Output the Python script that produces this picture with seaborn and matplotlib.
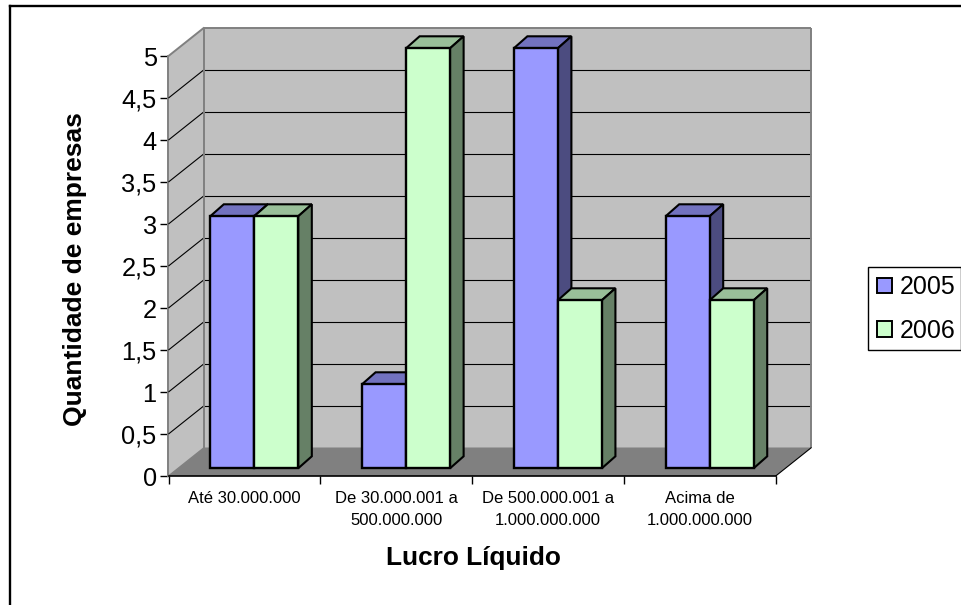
import matplotlib
matplotlib.use("Agg")
import matplotlib.pyplot as plt
import matplotlib.transforms as mtrans
from matplotlib.lines import Line2D
from matplotlib.patches import Polygon, Rectangle
import numpy as np
import pandas as pd
import seaborn as sns

categories = ["Até 30.000.000", "De 30.000.001 a\n500.000.000",
              "De 500.000.001 a\n1.000.000.000", "Acima de\n1.000.000.000"]
series_2005 = [3, 1, 5, 3]
series_2006 = [3, 5, 2, 2]
years = ["2005", "2006"]
y_ticks = [0, 0.5, 1, 1.5, 2, 2.5, 3, 3.5, 4, 4.5, 5]
y_tick_labels = ["0", "0,5", "1", "1,5", "2", "2,5", "3", "3,5", "4", "4,5", "5"]

front_colors = {"2005": "#9999FF", "2006": "#CCFFCC"}
top_colors = {"2005": "#7272BF", "2006": "#99BF99"}
side_colors = {"2005": "#4C4C80", "2006": "#668066"}

W, H = 962, 605
sns.set_theme(style="white")
plt.rcParams["font.family"] = ["Liberation Sans", "DejaVu Sans"]

fig = plt.figure(figsize=(W / 100, H / 100), dpi=100, facecolor="white")
# Axes rectangle is the front plane of the pseudo-3D box, given in pixels
left, right, top, bottom = 168.5, 775.7, 56.0, 476.0
ax = fig.add_axes([left / W, 1 - bottom / H, (right - left) / W, (bottom - top) / H])
ax.patch.set_alpha(0)

df = pd.DataFrame({
    "categoria": categories * 2,
    "ano": [years[0]] * 4 + [years[1]] * 4,
    "valor": series_2005 + series_2006,
})
sns.barplot(data=df, x="categoria", y="valor", hue="ano", hue_order=years,
            palette=front_colors, width=0.58, saturation=1, gap=0,
            edgecolor="black", linewidth=1.7, legend=False, ax=ax)
ax.set_xlim(-0.5, 3.5)
ax.set_ylim(0, 5)

BACK = np.array([35.8, 28.5])     # box depth, pixels right and up
BAR_FRONT = np.array([9.8, 7.7])  # bar front faces sit this far into the box
BAR_DEPTH = np.array([13.6, 12.0])


def px(x, y, depth=(0, 0)):
    """Data point to pixels, pushed into the box by a depth vector."""
    p = ax.transData.transform((x, y))
    return p + np.asarray(depth)


pix = mtrans.IdentityTransform()


def face(points, color, z, edge="none", lw=0):
    ax.add_patch(Polygon(np.array(points), closed=True, facecolor=color, edgecolor=edge,
                         linewidth=lw, transform=pix, clip_on=False, zorder=z,
                         joinstyle="miter"))


def seg(a, b, color="black", lw=1.0, z=1.0):
    ax.plot([a[0], b[0]], [a[1], b[1]], color=color, lw=lw, transform=pix,
            clip_on=False, zorder=z, solid_capstyle="butt")


x0, x1 = -0.5, 3.5
# Left wall, back wall and floor
face([px(x0, 0), px(x0, 5), px(x0, 5, BACK), px(x0, 0, BACK)], "#C0C0C0", 0.2)
face([px(x0, 0, BACK), px(x0, 5, BACK), px(x1, 5, BACK), px(x1, 0, BACK)], "#C0C0C0", 0.2)
face([px(x0, 0), px(x1, 0), px(x1, 0, BACK), px(x0, 0, BACK)], "#808080", 0.3)
for v in y_ticks[1:-1]:
    seg(px(x0, v), px(x0, v, BACK), lw=0.8)
    seg(px(x0, v, BACK), px(x1, v, BACK), lw=0.8)
seg(px(x0, 5), px(x0, 5, BACK), color="#808080", lw=1.4)
seg(px(x0, 5, BACK), px(x1, 5, BACK), color="#808080", lw=1.4)
seg(px(x0, 0, BACK), px(x0, 5, BACK), color="#808080", lw=1.4)
seg(px(x1, 0, BACK), px(x1, 5, BACK), color="#808080", lw=1.4)
seg(px(x0, 0), px(x0, 0, BACK), color="#808080", lw=1.0)
seg(px(x1, 0), px(x1, 0, BACK), lw=0.8)

# Shift the seaborn bars into the box and extrude them
shift = ax.transData + mtrans.Affine2D().translate(*BAR_FRONT)
bars = [b for b in ax.patches if isinstance(b, Rectangle)][:8]
for i, bar in enumerate(bars):
    year = years[i // 4]
    cat = i % 4
    z = 3 + cat * 3 + (i // 4) * 1.0
    bar.set_transform(shift)
    bar.set_clip_on(False)
    bar.set_zorder(z + 0.5)
    bx0, bx1 = bar.get_x(), bar.get_x() + bar.get_width()
    h = bar.get_height()
    f = BAR_FRONT
    d = BAR_FRONT + BAR_DEPTH
    face([px(bx0, h, f), px(bx1, h, f), px(bx1, h, d), px(bx0, h, d)], top_colors[year], z,
         edge="black", lw=1.5)
    face([px(bx1, 0, f), px(bx1, h, f), px(bx1, h, d), px(bx1, 0, d)], side_colors[year], z,
         edge="black", lw=1.5)

# Axis furniture
for s in ("top", "right"):
    ax.spines[s].set_visible(False)
ax.spines["left"].set_color("#808080")
ax.spines["left"].set_linewidth(1.4)
ax.spines["left"].set_zorder(0.6)
ax.spines["bottom"].set_color("black")
ax.spines["bottom"].set_linewidth(1.2)
ax.spines["bottom"].set_zorder(1.5)

ax.set_yticks(y_ticks, y_tick_labels)
ax.tick_params(axis="y", which="major", left=True, length=6, width=1.0, color="black",
               labelsize=18.3, pad=2.5, labelcolor="black")
ax.set_xticks(range(4), categories)
ax.set_xticks(np.arange(-0.5, 4), minor=True)
ax.tick_params(axis="x", which="major", bottom=False, labelsize=12, pad=5, labelcolor="black")
ax.tick_params(axis="x", which="minor", bottom=True, length=6, width=1.0, color="black")
for t in ax.get_xticklabels():
    t.set_linespacing(1.6)
    t.set_va("top")

ax.set_xlabel("Lucro Líquido", fontsize=18.9, fontweight="bold", color="black")
ax.xaxis.set_label_coords((473 - left) / (right - left), 1 - (546 - top) / (bottom - top))
ax.set_ylabel("Quantidade de empresas", fontsize=19, fontweight="bold", color="black")
ax.yaxis.set_label_coords((87 - left) / (right - left), 1 - (269 - top) / (bottom - top))

# Legend entries over a separately drawn box
fig.add_artist(Rectangle((867.7 / W, 1 - 350 / H), 93.0 / W, 83.3 / H, transform=fig.transFigure,
                         facecolor="white", edgecolor="black", linewidth=1.0))
handles = [Rectangle((0, 0), 1, 1, facecolor=front_colors[y], edgecolor="black", linewidth=1.4) for y in years]
leg = fig.legend(handles, years, loc="center left", bbox_to_anchor=(867.7 / W, 1 - 309 / H),
                 frameon=False, fontsize=18, handlelength=0.576, handleheight=0.576,
                 handletextpad=0.33, labelspacing=0.79, borderpad=0.385, borderaxespad=0,
                 labelcolor="black")
leg.set_zorder(5)

# Chart frame: only its top and left edges fall inside the canvas
frame_x, frame_y = 10.3 / W, 1 - 6.3 / H
fig.add_artist(Line2D([frame_x, frame_x], [0, frame_y], transform=fig.transFigure,
                      color="black", lw=1.7, solid_capstyle="projecting"))
fig.add_artist(Line2D([frame_x, 1], [frame_y, frame_y], transform=fig.transFigure,
                      color="black", lw=1.7, solid_capstyle="projecting"))

fig.savefig("out.png", dpi=100)
